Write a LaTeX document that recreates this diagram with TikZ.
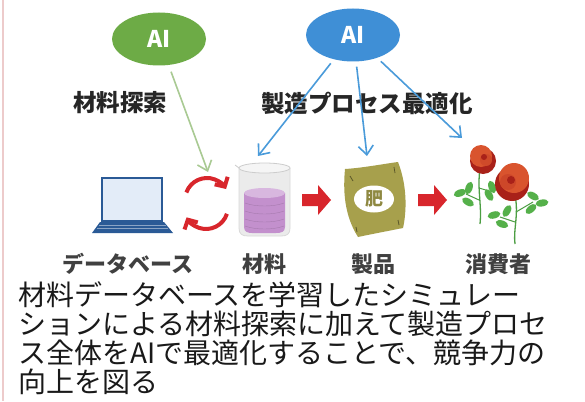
\documentclass[tikz,border=0pt]{standalone}
\usepackage{fontspec}
\setmainfont{Noto Sans CJK JP}
\usetikzlibrary{shapes.geometric,arrows.meta}

\definecolor{aigreen}{HTML}{6DAB46}
\definecolor{aiblue}{HTML}{3F8FD6}
\definecolor{linkgreen}{HTML}{A9CA93}
\definecolor{linkblue}{HTML}{4A9BDA}
\definecolor{loopred}{HTML}{D8262C}
\definecolor{pcblue}{HTML}{2A5A96}
\definecolor{pcscreen}{HTML}{E3ECF8}
\definecolor{liquid}{HTML}{C390CD}
\definecolor{bagolive}{HTML}{A7A04C}
\definecolor{rosered}{HTML}{D9542E}
\definecolor{rosedark}{HTML}{A92119}
\definecolor{leafgreen}{HTML}{55B04A}

\begin{document}
\begin{tikzpicture}[x=1pt,y=-1pt,
		aibubble/.style={ellipse, minimum width=94pt, minimum height=53pt, inner sep=0pt,
			text=white, font=\bfseries\fontsize{23}{23}\selectfont},
		heading/.style={font=\bfseries\fontsize{23.5}{23.5}\selectfont, text=black!85},
		caption/.style={font=\bfseries\fontsize{22}{22}\selectfont, text=black!75},
		greenlink/.style={linkgreen, line width=1.6pt, shorten <=7pt, -{Straight Barb[length=9pt,width=15pt]}},
		bluelink/.style={linkblue, line width=1.6pt, shorten <=5pt, -{Straight Barb[length=9pt,width=15pt]}},
		loop/.style={loopred, line width=4pt, -{Straight Barb[length=7pt,width=15pt]}}]
		\useasboundingbox (0,0) rectangle (585,401);
		\fill [white] (0,0) rectangle (585,401);
		\draw [black!12!pink!60, line width=1.5pt] (3,0) -- (3,401);

		% the two AI bubbles
		\node [aibubble, fill=aigreen] (aiL) at (159,39) {AI};
		\node [aibubble, fill=aiblue] (aiR) at (353,35) {AI};

		\node [heading] (search) at (120,103) {材料探索};
		\node [heading] (process) at (367,103) {製造プロセス最適化};

		% laptop
		\fill [pcblue] (101,177) rectangle (163,222);
		\fill [pcscreen] (103,179) rectangle (161,220);
		\fill [pcblue] (100,222) -- (164,222) -- (173,233) -- (92,233) -- cycle;
		\draw [pcblue!55!white, line width=0.6pt] (99,225) -- (166,225) (97,228) -- (168,228);
		\coordinate (pc) at (132,205);

		% circular arrows
		\draw [loop] (207,200) ++(200:22) arc (200:330:22);
		\draw [loop] (206,207) ++(18:22) arc (18:152:22);

		% beaker with liquid
		\fill [black!8] (239,168) -- (239,228) .. controls (239,234) and (242,236) .. (248,236)
			-- (281,236) .. controls (287,236) and (290,234) .. (290,228) -- (290,168) -- cycle;
		\fill [liquid] (244,193) -- (244,227) .. controls (244,232) and (248,233) .. (252,233)
			-- (276,233) .. controls (281,233) and (285,232) .. (285,227) -- (285,193) -- cycle;
		\fill [liquid!65!white] (264.5,193) ellipse [x radius=20.5, y radius=5];
		\foreach \yy in {203,211,219,226}
			\draw [liquid!85!black, line width=0.4pt] (245,\yy) .. controls (255,\yy+4) and (274,\yy+4) .. (284,\yy);
		\fill [black!4] (264.5,168) ellipse [x radius=25.5, y radius=5];
		\draw [black!20, line width=0.8pt] (264.5,168) ellipse [x radius=25.5, y radius=5];
		\draw [black!20, line width=0.8pt] (239,168) -- (235,165);
		\draw [black!15, line width=0.8pt] (239,168) -- (239,228) .. controls (239,234) and (242,236) .. (248,236)
			-- (281,236) .. controls (287,236) and (290,234) .. (290,228) -- (290,168);
		\coordinate (beaker) at (264,200);

		% fertiliser bag
		\fill [bagolive] (345,169) .. controls (362,168) and (383,164) .. (398,162)
			.. controls (407,185) and (407,210) .. (403,228)
			.. controls (388,231) and (372,234) .. (358,237)
			.. controls (344,215) and (343,190) .. (345,169) -- cycle;
		\draw [bagolive!55!black, line width=0.8pt] (350,176) -- (353,181) (394,167) -- (395,173)
			(356,227) -- (357,232) (398,220) -- (399,225);
		\node [ellipse, fill=white, minimum width=40pt, minimum height=27pt, inner sep=0pt,
			text=bagolive!85!black, font=\bfseries\fontsize{18}{18}\selectfont] (bag) at (374,199) {肥};

		% roses: stems, twigs, leaves, flowers
		\draw [leafgreen!90!black, line width=1.3pt] (480,168) .. controls (477,190) and (482,205) .. (480,224);
		\draw [leafgreen!90!black, line width=1.3pt] (515,195) .. controls (519,215) and (513,230) .. (515,244);
		\draw [leafgreen!90!black, line width=1pt] (479,200) -- (466,194) (479,188) -- (489,191)
			(515,222) -- (500,217) (516,212) -- (533,202);
		\foreach \lx/\ly/\ang in {460/193/20, 468/202/-30, 469/188/70, 489/195/-60, 492/187/110,
				494/215/15, 502/224/-20, 507/211/60, 533/196/-30, 542/203/10, 531/209/40}
			\fill [leafgreen] (\lx,\ly) ellipse [x radius=6.5, y radius=3.5, rotate=\ang];
		\fill [rosedark] (483,161) circle [radius=13];
		\fill [rosered] (481,156) circle [radius=11];
		\fill [rosered!80!rosedark] (486,160) circle [radius=6];
		\fill [rosedark] (484,157) circle [radius=3];
		\fill [rosedark] (512,184) circle [radius=17];
		\fill [rosered] (514,178) circle [radius=15];
		\fill [rosered!75!rosedark] (508,182) circle [radius=8];
		\fill [rosedark] (511,180) circle [radius=4];
		\coordinate (roses) at (500,190);

		% red flow arrows
		\fill [loopred] (302,194) -- (318,194) -- (318,185) -- (331,200) -- (318,215) -- (318,206) -- (302,206) -- cycle;
		\fill [loopred] (418,194) -- (434,194) -- (434,185) -- (447,200) -- (434,215) -- (434,206) -- (418,206) -- cycle;

		% links from the AI bubbles
		\coordinate (tipA) at (208,172);
		\coordinate (tipB) at (258,156);
		\coordinate (tipC) at (367,156);
		\coordinate (tipD) at (462,138);
		\draw [greenlink] (aiL) -- (tipA);
		\draw [bluelink] (aiR) -- (tipB);
		\draw [bluelink] (aiR) -- (tipC);
		\draw [bluelink] (aiR) -- (tipD);

		\node [caption] (dbname) at (128,264) {データベース};
		\node [caption] (matname) at (264,264) {材料};
		\node [caption] (prodname) at (373,264) {製品};
		\node [caption] (usrname) at (498,264) {消費者};

		\node [anchor=north west, align=left, inner sep=0pt, text=black!90,
			font=\fontsize{28}{29}\selectfont] (summary) at (18,281)
			{材料データベースを学習したシミュレー\\
			ションによる材料探索に加えて製造プロセ\\
			ス全体をAIで最適化することで、競争力の\\
			向上を図る};
\end{tikzpicture}
\end{document}
